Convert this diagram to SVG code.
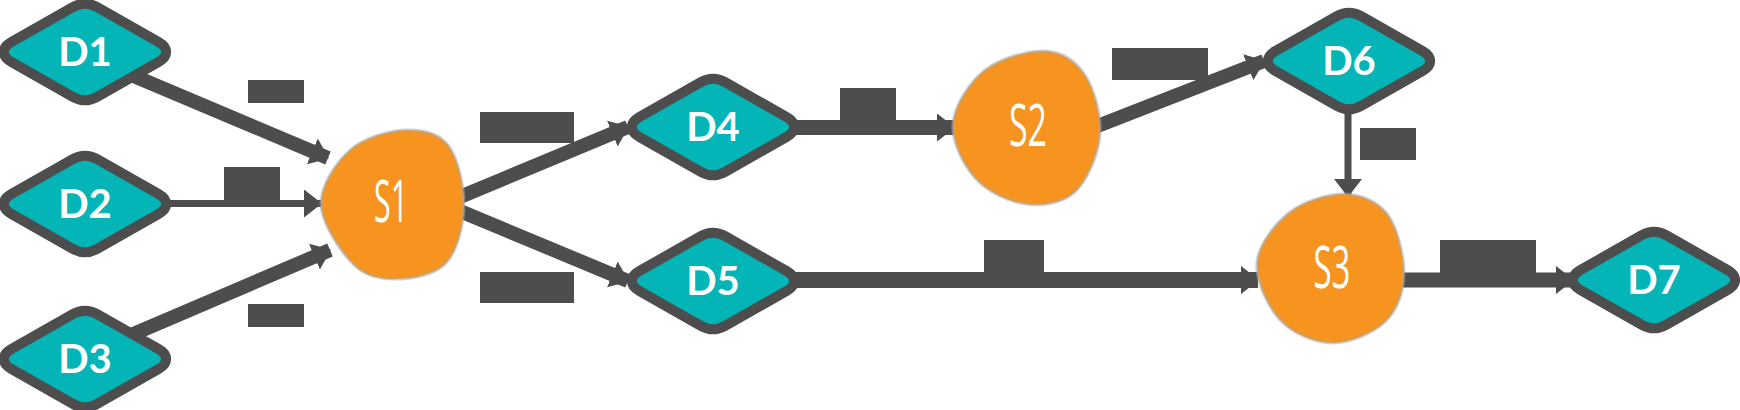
<svg xmlns="http://www.w3.org/2000/svg" xmlns:xlink="http://www.w3.org/1999/xlink" width="1740" height="410" viewBox="0 0 1740 410">
<style>
.halo{fill:none;stroke:#4d4d4d;stroke-width:20;stroke-linejoin:round}
.teal{fill:#03b5b6}
.dl{font-family:Lato,"Noto Sans",sans-serif;font-weight:700;font-size:40px;fill:#ffffff;text-anchor:middle}
.blob{fill:#f7941f;stroke:#a8a8a8;stroke-opacity:0.55;stroke-width:3}
.sl{font-family:"Open Sans","Noto Sans",sans-serif;font-weight:400;font-size:58px;fill:#ffffff;text-anchor:middle}
.ln{fill:none;stroke:#4d4d4d}
.lbl{fill:#4d4d4d}
</style>
<defs>
<path id="dia" d="M -71.3,-5.5 L -9.7,-40.5 Q 0,-46 9.7,-40.5 L 71.3,-5.5 Q 81,0 71.3,5.5 L 9.7,40.5 Q 0,46 -9.7,40.5 L -71.3,5.5 Q -81,0 -71.3,-5.5 Z"/>
<marker id="ah" markerUnits="userSpaceOnUse" markerWidth="18" markerHeight="28" viewBox="0 0 18 28" refX="17" refY="14" orient="auto">
<path d="M0,0 L18,14 L0,28 Z" fill="#4d4d4d"/>
</marker>
</defs>
<g id="connectors">
<line class="ln" x1="110" y1="66" x2="328" y2="158" stroke-width="14" marker-end="url(#ah)"/>
<line class="ln" x1="150" y1="203.5" x2="321" y2="203.5" stroke-width="7" marker-end="url(#ah)"/>
<line class="ln" x1="110" y1="344" x2="330" y2="250" stroke-width="14" marker-end="url(#ah)"/>
<line class="ln" x1="455" y1="199" x2="628" y2="127" stroke-width="14" marker-end="url(#ah)"/>
<line class="ln" x1="455" y1="209" x2="628" y2="281" stroke-width="14" marker-end="url(#ah)"/>
<line class="ln" x1="780" y1="127.5" x2="954" y2="127.5" stroke-width="15" marker-end="url(#ah)"/>
<line class="ln" x1="1095" y1="127" x2="1264" y2="61" stroke-width="14" marker-end="url(#ah)"/>
<line class="ln" x1="1348" y1="100" x2="1348" y2="196" stroke-width="7" marker-end="url(#ah)"/>
<line class="ln" x1="780" y1="280" x2="1258" y2="280" stroke-width="16" marker-end="url(#ah)"/>
<line class="ln" x1="1400" y1="280" x2="1573" y2="280" stroke-width="15" marker-end="url(#ah)"/>
<rect class="lbl" x="248" y="80" width="56" height="23"/>
<rect class="lbl" x="224" y="167" width="56" height="33"/>
<rect class="lbl" x="248" y="304" width="56" height="23"/>
<rect class="lbl" x="480" y="112" width="94" height="31"/>
<rect class="lbl" x="480" y="272" width="94" height="31"/>
<rect class="lbl" x="840" y="88" width="56" height="32"/>
<rect class="lbl" x="1112" y="48" width="96" height="32"/>
<rect class="lbl" x="1360" y="128" width="56" height="32"/>
<rect class="lbl" x="984" y="240" width="60" height="32"/>
<rect class="lbl" x="1440" y="240" width="96" height="33"/>
</g>
<g id="D1" transform="translate(85,52)"><use href="#dia" class="halo"/><use href="#dia" class="teal"/><text class="dl" x="0" y="14">D1</text></g>
<g id="D2" transform="translate(85,204)"><use href="#dia" class="halo"/><use href="#dia" class="teal"/><text class="dl" x="0" y="14">D2</text></g>
<g id="D3" transform="translate(85,359)"><use href="#dia" class="halo"/><use href="#dia" class="teal"/><text class="dl" x="0" y="14">D3</text></g>
<g id="D4" transform="translate(713,127)"><use href="#dia" class="halo"/><use href="#dia" class="teal"/><text class="dl" x="0" y="14">D4</text></g>
<g id="D5" transform="translate(713,281)"><use href="#dia" class="halo"/><use href="#dia" class="teal"/><text class="dl" x="0" y="14">D5</text></g>
<g id="D6" transform="translate(1349,61)"><use href="#dia" class="halo"/><use href="#dia" class="teal"/><text class="dl" x="0" y="14">D6</text></g>
<g id="D7" transform="translate(1654,280)"><use href="#dia" class="halo"/><use href="#dia" class="teal"/><text class="dl" x="0" y="14">D7</text></g>
<g id="S1">
<path class="blob" d="M405,130 C421.3,129.2 438.2,132.5 448,145 C457.8,157.5 464.2,185.5 464,205 C463.8,224.5 457.7,249.7 447,262 C436.3,274.3 415.3,278.3 400,279 C384.7,279.7 368.2,278.3 355,266 C341.8,253.7 321.8,224.3 321,205 C320.2,185.7 336,162.5 350,150 C364,137.5 388.7,130.8 405,130 Z"/>
<text class="sl" x="391" y="222" textLength="34" lengthAdjust="spacingAndGlyphs">S1</text>
</g>
<g id="S2">
<path class="blob" d="M1045,51 C1061.7,51.8 1075.8,61 1085,75 C1094.2,89 1101.7,115.5 1100,135 C1098.3,154.5 1087.5,180.5 1075,192 C1062.5,203.5 1041.7,206.3 1025,204 C1008.3,201.7 987,191.5 975,178 C963,164.5 951.3,141 953,123 C954.7,105 969.7,82 985,70 C1000.3,58 1028.3,50.2 1045,51 Z"/>
<text class="sl" x="1028" y="146" textLength="38" lengthAdjust="spacingAndGlyphs">S2</text>
</g>
<g id="S3">
<path class="blob" d="M1345,194 C1361.3,194.5 1378.2,201.5 1388,215 C1397.8,228.5 1404.5,257.2 1404,275 C1403.5,292.8 1397,310.7 1385,322 C1373,333.3 1349.5,343.3 1332,343 C1314.5,342.7 1292.5,333.5 1280,320 C1267.5,306.5 1255.3,280 1257,262 C1258.7,244 1275.3,223.3 1290,212 C1304.7,200.7 1328.7,193.5 1345,194 Z"/>
<text class="sl" x="1332" y="288" textLength="37" lengthAdjust="spacingAndGlyphs">S3</text>
</g>
</svg>
